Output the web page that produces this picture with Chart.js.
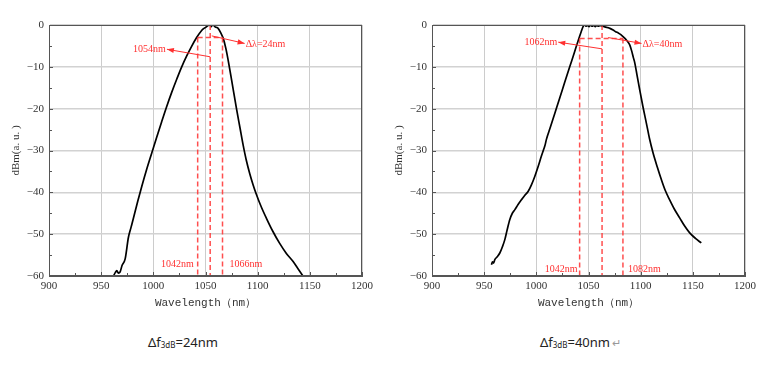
<!DOCTYPE html>
<html><head><meta charset="utf-8">
<script src="https://cdn.jsdelivr.net/npm/chart.js@4.4.1/dist/chart.umd.min.js"></script>
<style>
html,body{margin:0;padding:0;background:#fff;width:768px;height:367px;overflow:hidden;position:relative}
.box{position:absolute;top:0;width:384px;height:320px}
.cap{position:absolute;top:333px;font-family:'Noto Sans',sans-serif;font-size:13px;color:#222;white-space:nowrap}
.cap sub{font-size:8px;vertical-align:-1px}
.ret{color:#999;font-size:11px;margin-left:2px}
</style></head><body>
<div class="box" style="left:0"><canvas id="c1" width="384" height="320"></canvas></div>
<div class="box" style="left:383px"><canvas id="c2" width="384" height="320"></canvas></div>
<div class="cap" style="left:148px">Δf<sub>3dB</sub>=24nm</div>
<div class="cap" style="left:540px">Δf<sub>3dB</sub>=40nm<span class="ret">↵</span></div>
<script>
// ---- data ----
const xTicks = [900, 950, 1000, 1050, 1100, 1150, 1200];
const yTicks = [-60, -50, -40, -30, -20, -10, 0];

const leftWavelength = [961.8, 963.5, 965, 966.5, 968.2, 970, 973, 976.1, 978.5, 980.9, 985, 988.9, 993.5, 998.5, 1003, 1008, 1012.5, 1017.6, 1022.5, 1027.2, 1032, 1036.7, 1041.5, 1046.3, 1048.5, 1050.5, 1052.5, 1054, 1055.5, 1056.5, 1058, 1059.5, 1061, 1062.1, 1064.5, 1067, 1069.5, 1071.7, 1075, 1079.7, 1083, 1086, 1089, 1092.5, 1095.5, 1098.8, 1103.5, 1108.4, 1114.5, 1121.1, 1127.5, 1133.8, 1138.5, 1143.4];
const leftPower = [-60, -59.2, -58.7, -59.3, -59, -57.5, -55.9, -50.8, -48.5, -46.2, -42.2, -38.6, -34.6, -30.6, -27.0, -23.1, -19.7, -16.1, -12.9, -10.0, -7.4, -5.1, -3.0, -1.3, -0.8, -0.5, -0.1, 0, -0.4, 0, -0.1, -0.5, -0.6, -0.8, -1.8, -3.2, -5.6, -8.4, -13.1, -20, -24.5, -28.6, -32.2, -35.6, -38.1, -40.5, -43.5, -46.2, -49.3, -52.2, -54.6, -56.5, -58.2, -60];

const rightWavelength = [957, 958, 959, 960.2, 962.5, 965, 967.5, 969.8, 972, 974.6, 977, 979.3, 982.5, 985.7, 989, 992.1, 995.3, 998.5, 1001.5, 1004.8, 1007.5, 1008.5, 1009.6, 1013.5, 1017.6, 1022.5, 1027.2, 1032, 1036.7, 1040, 1043, 1044.8, 1046.3, 1047.5, 1049, 1050.5, 1052, 1053.5, 1055, 1056.5, 1058, 1059.5, 1061, 1062.4, 1065, 1068, 1070.5, 1073.6, 1076, 1078.5, 1081, 1083.2, 1086, 1088, 1089.6, 1091.5, 1093, 1094.4, 1096.5, 1099.1, 1102, 1105.5, 1108.5, 1111.9, 1116, 1119.9, 1123.5, 1127.8, 1132.5, 1137.4, 1142, 1147, 1152.5, 1158.1];
const rightPower = [-57.3, -56.6, -56.9, -56.1, -55.4, -54.5, -53, -51.3, -49, -46.5, -45, -44.2, -42.9, -41.8, -40.7, -39.8, -38.2, -36.2, -34, -31.4, -29.4, -28.6, -27.4, -24.4, -21.2, -17.4, -13.7, -10.0, -6.4, -3.8, -1.6, -0.4, 0, -0.3, -0.1, -0.4, 0, -0.3, -0.1, -0.4, -0.1, -0.3, -0.1, -0.2, -0.4, -0.6, -0.8, -1.2, -1.6, -1.9, -2.3, -2.8, -3.5, -4.1, -4.8, -6.3, -7.8, -9.1, -12, -15.5, -19.3, -23.5, -27.2, -30.6, -34, -37, -39.5, -41.8, -44.1, -46.1, -48, -49.7, -51, -52.1];

// annotation values (nm, dBm)
const leftEdges = [1042.5, 1066.3], leftCenter = 1054.5, leftLevel = -3;
const leftArrowFrom = [[1054.5, -7.6], [1056, -2.6]];
const leftArrowTo = [[1013, -5.8], [1087.5, -4.4]];
const leftArrowLabels = ['1054nm', 'Δλ=24nm'];
const leftEdgeLabels = ['1042nm', '1066nm'], leftEdgeLabelLevel = -57.3;

const rightEdges = [1041.5, 1083], rightCenter = 1063, rightLevel = -3.2;
const rightArrowFrom = [[1063, -5.7], [1068.8, -3.0]];
const rightArrowTo = [[1021, -4.1], [1100.8, -4.4]];
const rightArrowLabels = ['1062nm', 'Δλ=40nm'];
const rightEdgeLabels = ['1042nm', '1082nm'], rightEdgeLabelLevel = -58.3;

// ---- drawing ----
const RED_DASH = 'rgba(255,60,60,0.9)';
const RED_TXT = '#ff3030';
const SERIF = '"Liberation Serif", "Times New Roman", serif';

const annotPlugin = {
  id: 'annot',
  afterDatasetsDraw(chart, args, o) {
    const {ctx} = chart, xs = chart.scales.x, ys = chart.scales.y;
    const X = v => xs.getPixelForValue(v), Y = v => ys.getPixelForValue(v);
    const line = (a, b, c, d) => { ctx.beginPath(); ctx.moveTo(a, b); ctx.lineTo(c, d); ctx.stroke(); };
    ctx.save();
    ctx.strokeStyle = RED_DASH; ctx.lineWidth = 1.5; ctx.setLineDash([5, 3]);
    o.edges.forEach(e => line(X(e), Y(o.level), X(e), Y(-60)));
    line(X(o.center), Y(0), X(o.center), Y(-60));
    line(X(o.edges[0]), Y(o.level), X(o.edges[1]), Y(o.level));
    ctx.setLineDash([]);
    ctx.strokeStyle = RED_TXT; ctx.fillStyle = RED_TXT; ctx.lineWidth = 1;
    ctx.font = '10px ' + SERIF; ctx.textBaseline = 'middle';
    o.from.forEach((f, i) => {
      const t = o.to[i];
      const x0 = X(f[0]), y0 = Y(f[1]), x1 = X(t[0]), y1 = Y(t[1]);
      line(x0, y0, x1, y1);
      const ang = Math.atan2(y1 - y0, x1 - x0), L = 7, W = 2.6;
      ctx.beginPath();
      ctx.moveTo(x1, y1);
      ctx.lineTo(x1 - L * Math.cos(ang) + W * Math.sin(ang), y1 - L * Math.sin(ang) - W * Math.cos(ang));
      ctx.lineTo(x1 - L * Math.cos(ang) - W * Math.sin(ang), y1 - L * Math.sin(ang) + W * Math.cos(ang));
      ctx.closePath(); ctx.fill();
      if (x1 < x0) { ctx.textAlign = 'right'; ctx.fillText(o.labels[i], x1 - 1, y1 + 0.5); }
      else { ctx.textAlign = 'left'; ctx.fillText(o.labels[i], x1 + 1, y1 + 0.5); }
    });
    ctx.font = '10px ' + SERIF;
    ctx.textAlign = 'right'; ctx.fillText(o.edgeLabels[0], X(o.edges[0]) - o.gapL, Y(o.edgeLevel));
    ctx.textAlign = 'left'; ctx.fillText(o.edgeLabels[1], X(o.edges[1]) + o.gapR, Y(o.edgeLevel));
    ctx.restore();
  },
  afterDraw(chart) {
    const {ctx, chartArea: a} = chart, xs = chart.scales.x, ys = chart.scales.y;
    ctx.save();
    ctx.strokeStyle = '#555'; ctx.lineWidth = 1;
    ctx.strokeRect(a.left + 0.5, a.top + 0.5, a.right - a.left - 1, a.bottom - a.top - 1);
    ctx.beginPath();
    for (let v = 900; v <= 1200; v += 25) {
      const px = Math.round(xs.getPixelForValue(v)) + 0.5, len = (v % 50 === 0) ? 4 : 3;
      ctx.moveTo(px, a.bottom); ctx.lineTo(px, a.bottom - len);
    }
    for (let v = -60; v <= 0; v += 5) {
      const py = Math.round(ys.getPixelForValue(v)) + 0.5, len = (v % 10 === 0) ? 4 : 3;
      ctx.moveTo(a.left, py); ctx.lineTo(a.left + len, py);
    }
    ctx.stroke();
    ctx.restore();
  }
};

function makeChart(id, xs, ys, annot) {
  return new Chart(document.getElementById(id), {
    type: 'scatter',
    data: { datasets: [{
      data: xs.map((x, i) => ({x, y: ys[i]})),
      showLine: true, borderColor: '#000', borderWidth: 1.7,
      pointRadius: 0, pointHoverRadius: 0, cubicInterpolationMode: 'monotone', fill: false
    }]},
    options: {
      responsive: false, animation: false, devicePixelRatio: 1,
      layout: { padding: { top: 25, right: 22, left: 0, bottom: 0 } },
      plugins: { legend: { display: false }, tooltip: { enabled: false }, annot },
      scales: {
        x: {
          type: 'linear', min: 900, max: 1200,
          afterBuildTicks: s => { s.ticks = xTicks.map(v => ({value: v})); },
          afterFit: s => { s.height = 44; },
          grid: { color: '#cccccc', lineWidth: 1, drawTicks: false },
          border: { display: true, color: '#555', width: 1 },
          ticks: { padding: 4, color: '#333', font: { family: SERIF, size: 11 },
                   callback: v => String(v) },
          title: { display: true, text: 'Wavelength（nm）', color: '#333',
                   font: { family: '"Liberation Mono", monospace', size: 11 }, padding: { top: 0, bottom: 10 } }
        },
        y: {
          type: 'linear', min: -60, max: 0,
          afterBuildTicks: s => { s.ticks = yTicks.map(v => ({value: v})); },
          afterFit: s => { s.width = 49; },
          grid: { color: '#d2d2d2', lineWidth: 1.5, drawTicks: false },
          border: { display: true, color: '#555', width: 1 },
          ticks: { padding: 5, color: '#333', font: { family: SERIF, size: 11 },
                   callback: v => v < 0 ? '\u2212' + Math.abs(v) : String(v) },
          title: { display: true, text: 'dBm(a. u. )', color: '#333',
                   font: { family: SERIF, size: 11 }, padding: { top: 10, bottom: 0 } }
        }
      }
    },
    plugins: [annotPlugin]
  });
}

makeChart('c1', leftWavelength, leftPower, {
  edges: leftEdges, center: leftCenter, level: leftLevel,
  from: leftArrowFrom, to: leftArrowTo, labels: leftArrowLabels,
  edgeLabels: leftEdgeLabels, edgeLevel: leftEdgeLabelLevel, gapL: 4, gapR: 7
});
makeChart('c2', rightWavelength, rightPower, {
  edges: rightEdges, center: rightCenter, level: rightLevel,
  from: rightArrowFrom, to: rightArrowTo, labels: rightArrowLabels,
  edgeLabels: rightEdgeLabels, edgeLevel: rightEdgeLabelLevel, gapL: 2, gapR: 5
});
</script>
</body></html>
